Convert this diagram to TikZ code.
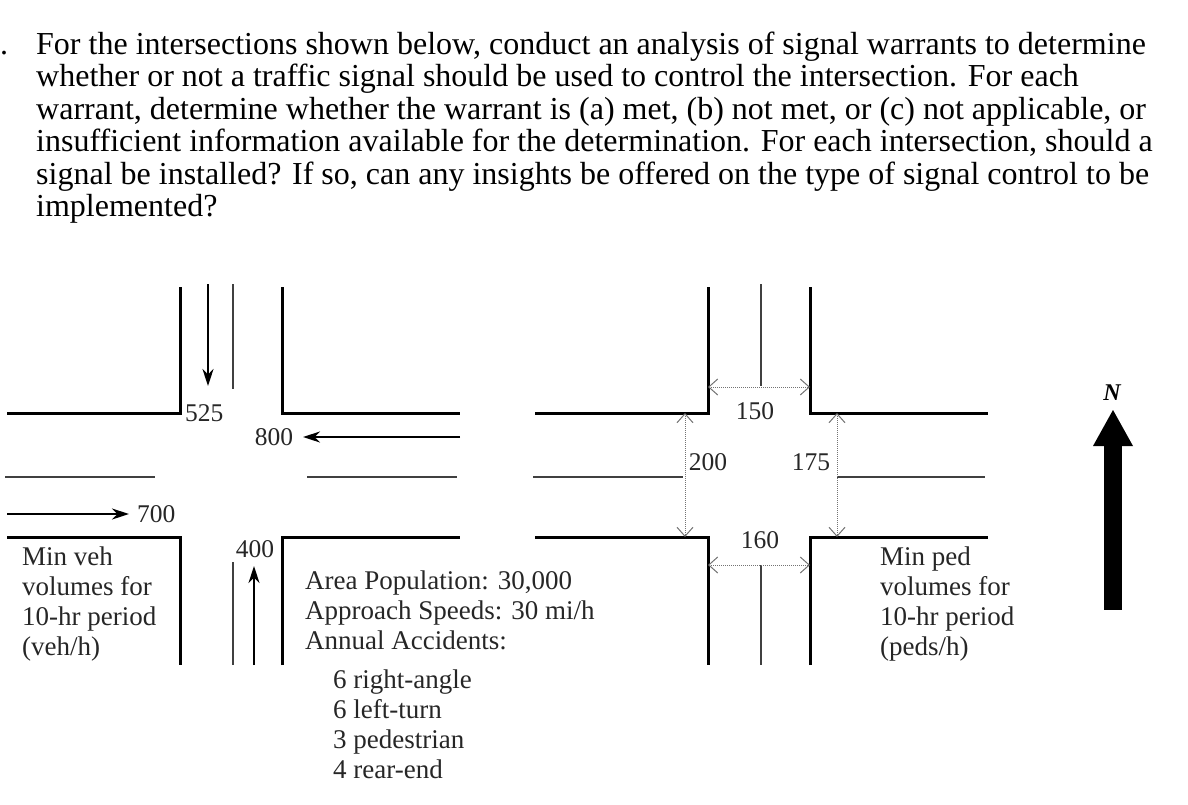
\documentclass[tikz,border=0pt]{standalone}
\usepackage{fontspec}
\setmainfont{Liberation Serif}
\usetikzlibrary{arrows.meta}
\begin{document}
\begin{tikzpicture}[x=1pt,y=-1pt,
  curb/.style={line width=3pt,line join=miter},
  thin/.style={line width=1.4pt,black!75},
  flow/.style={line width=2pt,-{Stealth[length=17pt,width=11pt]}},
  dim/.style={line width=1pt,densely dotted,black!55,{Straight Barb[length=9pt,width=16pt]}-{Straight Barb[length=9pt,width=16pt]}},
  head/.style={anchor=base west,inner sep=0pt,font=\fontsize{32}{32}\selectfont},
  lab/.style={inner sep=0pt,font=\fontsize{25.5}{28}\selectfont,text=black!85},
  blk/.style={anchor=north west,inner sep=0pt,align=left,font=\fontsize{27}{30}\selectfont,text=black!85}]
\useasboundingbox (0,0) rectangle (1188,804);
% heading
\node[head] (dot) at (0,54) {.};
\node[head] (h1) at (36,54) {For the intersections shown below, conduct an analysis of signal warrants to determine};
\node[head] (h2) at (36,86.5) {whether or not a traffic signal should be used to control the intersection. For each};
\node[head] (h3) at (36,119) {warrant, determine whether the warrant is (a) met, (b) not met, or (c) not applicable, or};
\node[head] (h4) at (36,151.5) {insufficient information available for the determination. For each intersection, should a};
\node[head] (h5) at (36,184) {signal be installed? If so, can any insights be offered on the type of signal control to be};
\node[head] (h6) at (36,216.5) {implemented?};
% left intersection
\draw[curb] (7,413) -- (180,413) -- (180,287);
\draw[curb] (282,287) -- (282,413) -- (460,413);
\draw[curb] (7,537) -- (180,537) -- (180,665);
\draw[curb] (282,665) -- (282,537) -- (460,537);
\draw[thin] (233,284) -- (233,389);
\draw[thin] (233,562) -- (233,665);
\draw[thin] (5,477) -- (155,477);
\draw[thin] (307,477) -- (457,477);
\node[lab,anchor=west] (v525) at (185,413) {525};
\node[lab] (v800) at (274,437) {800};
\node[lab,anchor=west] (v700) at (137,514) {700};
\node[lab] (v400) at (255,549) {400};
\coordinate (s1) at (208,284);
\coordinate (e1) at (460,437);
\coordinate (w1) at (7,514);
\coordinate (n1) at (254,665);
\draw[flow] (s1) -- (208,386);
\draw[flow] (e1) -- (303,437);
\draw[flow] (w1) -- (129,514);
\draw[flow] (n1) -- (254,566);
\node[blk] (minveh) at (22,547) {Min veh\\volumes for\\10-hr period\\(veh/h)};
\node[blk] (area) at (305,571) {Area Population: 30,000\\Approach Speeds: 30 mi/h\\Annual Accidents:};
\node[blk] (acc) at (333,670) {6 right-angle\\6 left-turn\\3 pedestrian\\4 rear-end};
% right intersection
\draw[curb] (535,413) -- (708,413) -- (708,287);
\draw[curb] (810,287) -- (810,413) -- (988,413);
\draw[curb] (535,537) -- (708,537) -- (708,665);
\draw[curb] (810,665) -- (810,537) -- (988,537);
\draw[thin] (761,284) -- (761,386);
\draw[thin] (761,565) -- (761,665);
\draw[thin] (533,477) -- (683,477);
\draw[thin] (837,477) -- (985,477);
\coordinate (a1) at (708,387); \coordinate (a2) at (810,387);
\coordinate (b1) at (708,565); \coordinate (b2) at (810,565);
\coordinate (c1) at (685,413); \coordinate (c2) at (685,537);
\coordinate (d1) at (837,413); \coordinate (d2) at (837,537);
\draw[dim] (a1) -- (a2);
\draw[dim] (b1) -- (b2);
\draw[dim] (c1) -- (c2);
\draw[dim] (d1) -- (d2);
\node[lab] (p150) at (755,411) {150};
\node[lab] (p160) at (760,540) {160};
\node[lab] (p200) at (708,462) {200};
\node[lab] (p175) at (811,462) {175};
\node[blk] (minped) at (880,547) {Min ped\\volumes for\\10-hr period\\(peds/h)};
% north arrow
\node[inner sep=0pt,font=\fontsize{24}{24}\selectfont\bfseries\itshape] (N) at (1112,393) {N};
\fill (1104,610) rectangle (1122,445);
\fill (1113,410) -- (1133,446) -- (1093,446) -- cycle;
\end{tikzpicture}
\end{document}
